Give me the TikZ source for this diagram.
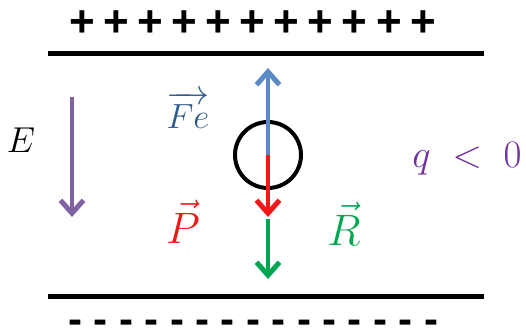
\RequirePackage{fix-cm}
\documentclass[tikz,border=0pt]{standalone}
\usepackage{amsmath}
\usepackage{fontspec}
\usepackage{xcolor}
\usepackage{tikz}
\usetikzlibrary{arrows.meta,positioning,calc}

\definecolor{feblue}{HTML}{2F5A8F}
\definecolor{arrblue}{HTML}{5B8BC6}
\definecolor{pred}{HTML}{F01818}
\definecolor{rgreen}{HTML}{00A650}
\definecolor{epurple}{HTML}{8064A2}
\definecolor{qpurple}{HTML}{7030A0}
\newfontfamily\signfont{Liberation Sans}

\tikzset{
  plate/.style={line width=5pt},
  force/.style={line width=4.5pt,-{Straight Barb[length=13pt,width=23pt,line width=5pt]}},
  sign/.style={inner sep=0pt,anchor=base,font=\signfont\bfseries\fontsize{44}{44}\selectfont},
  lbl/.style={inner sep=0pt,anchor=base,font=\fontsize{36}{40}\selectfont}
}

\begin{document}
\begin{tikzpicture}[x=1pt,y=-1pt]
\useasboundingbox (0,0) rectangle (526,335);

% plates
\coordinate (TL) at (48,53);
\coordinate (TR) at (484,53);
\coordinate (BL) at (48,296);
\coordinate (BR) at (484,296);
\draw[plate] (TL) -- (TR);
\draw[plate] (BL) -- (BR);

% charges on the plates
\foreach \i in {0,...,10} {
    \node[sign] (plus\i) at ({82+34.1*\i},36) {+};
}
\foreach \i in {0,...,14} {
    \node[sign,font=\signfont\bfseries\fontsize{42}{42}\selectfont] (minus\i) at ({75.5+25.4*\i},333) {-};
}

% field
\coordinate (E1) at (72,97);
\coordinate (E2) at (72,217);
\draw[force,epurple] (E1) -- (E2);
\node[lbl] (Elbl) at (21,152) {$E$};

% the particle and its forces
\node[draw,line width=4pt,circle,minimum size=66pt,inner sep=0pt] (charge) at (268,155) {};
\coordinate (Fetip) at (268,68);
\coordinate (Ptip) at (268,217);
\coordinate (Rbase) at (268,219);
\coordinate (Rtip) at (268,279);
\draw[force,arrblue] (charge.center) -- (Fetip);
\draw[force,pred] (charge.center) -- (Ptip);
\draw[force,rgreen] (Rbase) -- (Rtip);

\node[lbl,text=feblue,font=\fontsize{35}{40}\selectfont] (Felbl) at (188,128) {$\overrightarrow{Fe}$};
\node[lbl,text=pred,font=\fontsize{44}{48}\selectfont] (Plbl) at (183,243) {$\vec{P}$};
\node[lbl,text=rgreen,font=\fontsize{44}{48}\selectfont] (Rlbl) at (344,245) {$\vec{R}$};
\node[lbl,text=qpurple,font=\fontsize{39}{44}\selectfont] (qlbl) at (467,167) {$q\;<\;0$};
\end{tikzpicture}
\end{document}
